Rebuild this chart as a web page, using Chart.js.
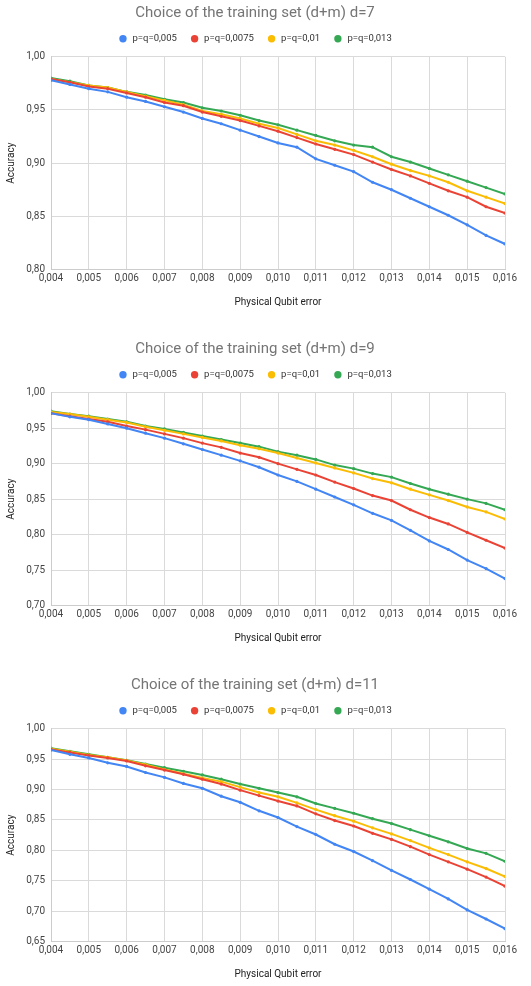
<!DOCTYPE html>
<html><head><meta charset="utf-8">
<style>
html,body{margin:0;padding:0;background:#fff;width:531px;height:986px;overflow:hidden}
.wrap{position:absolute;left:0;width:531px;height:314px}
canvas{display:block}
</style>
<script src="https://cdn.jsdelivr.net/npm/chart.js@4.4.1/dist/chart.umd.min.js"></script>
</head><body>
<div class="wrap" style="top:0px"><canvas id="c7" width="531" height="314"></canvas></div>
<div class="wrap" style="top:336px"><canvas id="c9" width="531" height="314"></canvas></div>
<div class="wrap" style="top:672px"><canvas id="c11" width="531" height="314"></canvas></div>
<script>
// ---- data ----
const xValues = [0.004, 0.0045, 0.005, 0.0055, 0.006, 0.0065, 0.007, 0.0075, 0.008, 0.0085, 0.009, 0.0095, 0.010,
                 0.0105, 0.011, 0.0115, 0.012, 0.0125, 0.013, 0.0135, 0.014, 0.0145, 0.015, 0.0155, 0.016];
const seriesLabels = ['p=q=0,005', 'p=q=0,0075', 'p=q=0,01', 'p=q=0,013'];
const xTickValues = [0.004, 0.005, 0.006, 0.007, 0.008, 0.009, 0.010, 0.011, 0.012, 0.013, 0.014, 0.015, 0.016];
const xTickLabels = ['0,004', '0,005', '0,006', '0,007', '0,008', '0,009', '0,010', '0,011', '0,012', '0,013', '0,014', '0,015', '0,016'];

const titles = ['Choice of the training set (d+m) d=7', 'Choice of the training set (d+m) d=9', 'Choice of the training set (d+m) d=11'];

const yTickValuesD7 = [0.80, 0.85, 0.90, 0.95, 1.00];
const yTickLabelsD7 = ['0,80', '0,85', '0,90', '0,95', '1,00'];
const yTickValuesD9 = [0.70, 0.75, 0.80, 0.85, 0.90, 0.95, 1.00];
const yTickLabelsD9 = ['0,70', '0,75', '0,80', '0,85', '0,90', '0,95', '1,00'];
const yTickValuesD11 = [0.65, 0.70, 0.75, 0.80, 0.85, 0.90, 0.95, 1.00];
const yTickLabelsD11 = ['0,65', '0,70', '0,75', '0,80', '0,85', '0,90', '0,95', '1,00'];

// d=7
const d7_p005  = [0.978, 0.974, 0.970, 0.967, 0.962, 0.958, 0.953, 0.948, 0.942, 0.937, 0.931, 0.925, 0.919, 0.915, 0.904, 0.898, 0.892, 0.882, 0.875, 0.867, 0.859, 0.851, 0.842, 0.832, 0.824];
const d7_p0075 = [0.979, 0.976, 0.972, 0.970, 0.966, 0.962, 0.957, 0.954, 0.948, 0.944, 0.940, 0.935, 0.930, 0.924, 0.918, 0.913, 0.908, 0.901, 0.894, 0.888, 0.881, 0.874, 0.868, 0.859, 0.853];
const d7_p01   = [0.979, 0.976, 0.973, 0.971, 0.967, 0.963, 0.959, 0.955, 0.949, 0.946, 0.942, 0.937, 0.933, 0.927, 0.921, 0.917, 0.912, 0.906, 0.899, 0.893, 0.888, 0.882, 0.874, 0.868, 0.862];
const d7_p013  = [0.980, 0.977, 0.973, 0.971, 0.967, 0.964, 0.960, 0.957, 0.952, 0.949, 0.945, 0.940, 0.936, 0.931, 0.926, 0.921, 0.917, 0.915, 0.906, 0.901, 0.895, 0.889, 0.883, 0.877, 0.871];
// d=9
const d9_p005  = [0.971, 0.966, 0.962, 0.956, 0.950, 0.943, 0.936, 0.928, 0.920, 0.912, 0.904, 0.895, 0.884, 0.875, 0.864, 0.853, 0.842, 0.830, 0.820, 0.806, 0.791, 0.779, 0.764, 0.752, 0.738];
const d9_p0075 = [0.971, 0.967, 0.963, 0.959, 0.953, 0.948, 0.942, 0.936, 0.929, 0.923, 0.915, 0.909, 0.900, 0.892, 0.884, 0.874, 0.865, 0.855, 0.848, 0.835, 0.824, 0.815, 0.803, 0.792, 0.781];
const d9_p01   = [0.973, 0.970, 0.966, 0.962, 0.958, 0.952, 0.947, 0.942, 0.937, 0.932, 0.926, 0.921, 0.915, 0.908, 0.901, 0.894, 0.887, 0.879, 0.873, 0.864, 0.856, 0.848, 0.839, 0.832, 0.822];
const d9_p013  = [0.974, 0.970, 0.967, 0.963, 0.959, 0.953, 0.949, 0.944, 0.939, 0.934, 0.929, 0.924, 0.917, 0.912, 0.906, 0.898, 0.893, 0.886, 0.881, 0.872, 0.864, 0.857, 0.850, 0.844, 0.835];
// d=11
const d11_p005  = [0.965, 0.958, 0.952, 0.944, 0.938, 0.928, 0.920, 0.910, 0.902, 0.889, 0.879, 0.865, 0.854, 0.839, 0.826, 0.810, 0.798, 0.783, 0.767, 0.752, 0.736, 0.720, 0.702, 0.687, 0.671];
const d11_p0075 = [0.966, 0.961, 0.956, 0.952, 0.947, 0.939, 0.932, 0.925, 0.917, 0.909, 0.899, 0.890, 0.881, 0.873, 0.860, 0.849, 0.840, 0.828, 0.818, 0.806, 0.793, 0.781, 0.769, 0.756, 0.741];
const d11_p01   = [0.967, 0.962, 0.957, 0.953, 0.948, 0.941, 0.933, 0.926, 0.919, 0.913, 0.904, 0.895, 0.888, 0.878, 0.867, 0.857, 0.848, 0.837, 0.827, 0.816, 0.804, 0.793, 0.781, 0.770, 0.757];
const d11_p013  = [0.968, 0.963, 0.958, 0.953, 0.948, 0.942, 0.936, 0.930, 0.924, 0.917, 0.909, 0.902, 0.895, 0.888, 0.877, 0.869, 0.861, 0.852, 0.844, 0.834, 0.824, 0.814, 0.803, 0.795, 0.782];

// ---- styling ----
const colors = ['#4285F4', '#EA4335', '#FBBC04', '#34A853'];
const FONT = 'Roboto';

const legendGap = {
  id: 'legendGap',
  afterInit(chart) {
    const lg = chart.legend;
    if (!lg) return;
    const fit = lg.fit;
    lg.fit = function () { fit.call(this); this.height += 3.25; };
  }
};

function makeChart(id, title, series, yMin, yTickValues, yTickLabels) {
  const datasets = series.map((vals, i) => ({
    label: seriesLabels[i],
    data: xValues.map((x, j) => ({ x: x, y: vals[j] })),
    borderColor: colors[i],
    backgroundColor: colors[i],
    pointBackgroundColor: colors[i],
    pointBorderWidth: 0,
    pointRadius: 1.6,
    borderWidth: 2,
    tension: 0
  }));
  return new Chart(document.getElementById(id), {
    type: 'line',
    data: { datasets },
    plugins: [legendGap],
    options: {
      responsive: false,
      animation: false,
      devicePixelRatio: 1,
      layout: { padding: { left: 5, right: 26, top: 0, bottom: 0 } },
      plugins: {
        title: {
          display: true, text: title, color: '#757575',
          font: { family: FONT, size: 15, weight: 'normal', lineHeight: 1 },
          padding: { top: 5.5, bottom: 0.5 }
        },
        legend: {
          position: 'top',
          labels: {
            usePointStyle: true, pointStyle: 'circle', boxWidth: 10, boxHeight: 5.2,
            padding: 13, color: '#333', font: { family: FONT, size: 9.5 }
          }
        },
        tooltip: { enabled: false }
      },
      scales: {
        x: {
          type: 'linear', min: xTickValues[0], max: xTickValues[xTickValues.length - 1],
          afterBuildTicks(s) { s.ticks = xTickValues.map(v => ({ value: v })); },
          afterFit(s) { s.height = 44.5; s.paddingRight = 0; },
          grid: { color: '#dadada', drawTicks: false },
          border: { color: '#cccccc' },
          ticks: {
            padding: 3, color: '#444', maxRotation: 0, autoSkip: false,
            font: { family: FONT, size: 10 },
            callback: (v, i) => xTickLabels[i]
          },
          title: {
            display: true, text: 'Physical Qubit error', color: '#222',
            font: { family: FONT, size: 10 }, padding: { top: 0, bottom: 6 }
          }
        },
        y: {
          min: yMin, max: 1.0,
          afterBuildTicks(s) { s.ticks = yTickValues.map(v => ({ value: v })); },
          afterFit(s) { s.width = 46; },
          grid: { color: '#dadada', drawTicks: false },
          border: { color: '#cccccc' },
          ticks: {
            padding: 6, color: '#444',
            font: { family: FONT, size: 10 },
            callback: (v, i) => yTickLabels[i]
          },
          title: {
            display: true, text: 'Accuracy', color: '#222',
            font: { family: FONT, size: 10 }, padding: { top: 0, bottom: 0 }
          }
        }
      }
    }
  });
}

makeChart('c7', titles[0], [d7_p005, d7_p0075, d7_p01, d7_p013], 0.80, yTickValuesD7, yTickLabelsD7);
makeChart('c9', titles[1], [d9_p005, d9_p0075, d9_p01, d9_p013], 0.70, yTickValuesD9, yTickLabelsD9);
makeChart('c11', titles[2], [d11_p005, d11_p0075, d11_p01, d11_p013], 0.65, yTickValuesD11, yTickLabelsD11);
</script>
</body></html>
